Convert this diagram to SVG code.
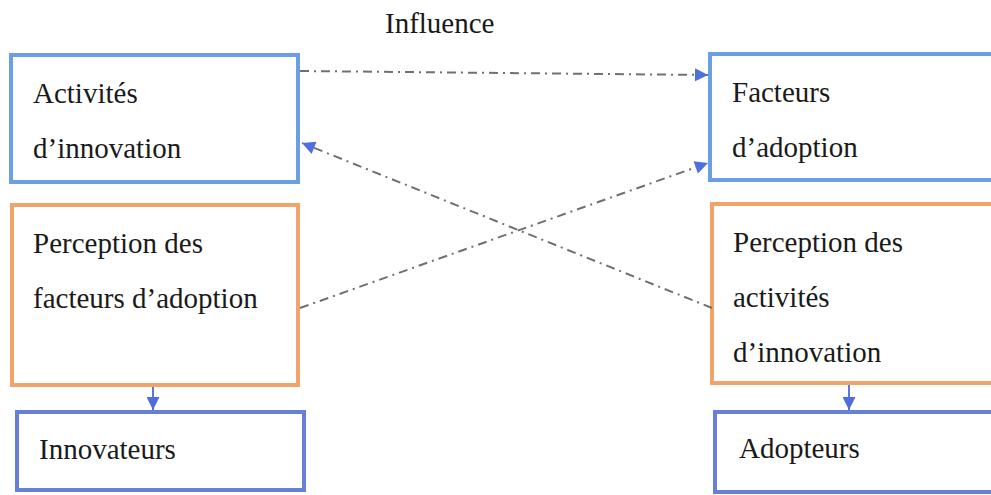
<svg xmlns="http://www.w3.org/2000/svg" width="991" height="495" viewBox="0 0 991 495">
  <style>
    text { font-family: "Liberation Serif", "Times New Roman", "DejaVu Serif", serif; font-size: 29px; fill: #1a1a1a; }
    .box { fill: #ffffff; stroke-width: 4; }
    .blue { stroke: #6a9fe6; }
    .orange { stroke: #f0a469; }
    .navy { stroke: #6680d8; }
    .link { fill: none; stroke: #707070; stroke-width: 2; stroke-dasharray: 9 5 2 5; }
    .down { fill: none; stroke: #5a78d6; stroke-width: 2; }
  </style>
  <defs>
    <marker id="head" viewBox="0 0 10 10" refX="10" refY="5" markerWidth="15" markerHeight="13" markerUnits="userSpaceOnUse" orient="auto">
      <path d="M0,0 L10,5 L0,10 Z" fill="#4f6fdc"/>
    </marker>
  </defs>

  <rect width="991" height="495" fill="#ffffff"/>

  <text x="385" y="33">Influence</text>

  <g id="activites">
    <rect class="box blue" x="11" y="55" width="287" height="127"/>
    <text x="33" y="103">Activités</text>
    <text x="33" y="158">d’innovation</text>
  </g>

  <g id="facteurs">
    <rect class="box blue" x="710" y="54" width="300" height="126"/>
    <text x="732" y="102">Facteurs</text>
    <text x="732" y="157">d’adoption</text>
  </g>

  <g id="perception-facteurs">
    <rect class="box orange" x="12" y="205" width="286" height="180"/>
    <text x="33" y="253">Perception des</text>
    <text x="33" y="308">facteurs d’adoption</text>
  </g>

  <g id="perception-activites">
    <rect class="box orange" x="712" y="204" width="300" height="179"/>
    <text x="733" y="252">Perception des</text>
    <text x="733" y="307">activités</text>
    <text x="733" y="362">d’innovation</text>
  </g>

  <g id="innovateurs">
    <rect class="box navy" x="17" y="412" width="287" height="78"/>
    <text x="39" y="459">Innovateurs</text>
  </g>

  <g id="adopteurs">
    <rect class="box navy" x="715" y="412" width="300" height="80"/>
    <text x="739" y="458">Adopteurs</text>
  </g>

  <g id="connectors">
    <line class="link" x1="300" y1="71" x2="708" y2="75" marker-end="url(#head)"/>
    <line class="link" x1="712" y1="308" x2="302" y2="143" marker-end="url(#head)"/>
    <line class="link" x1="300" y1="308" x2="708" y2="163" marker-end="url(#head)"/>
    <line class="down" x1="153" y1="387" x2="153" y2="410" marker-end="url(#head)"/>
    <line class="down" x1="849" y1="385" x2="849" y2="410" marker-end="url(#head)"/>
  </g>
</svg>
